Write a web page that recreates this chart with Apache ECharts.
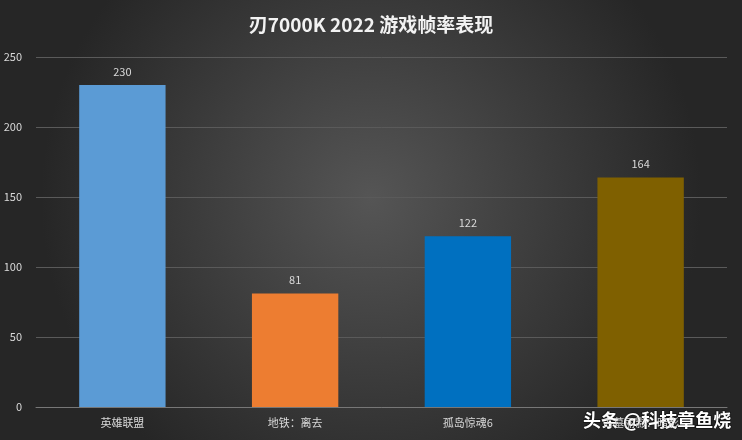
<!DOCTYPE html>
<html><head><meta charset="utf-8">
<script src="https://cdn.jsdelivr.net/npm/echarts@6/dist/echarts.min.js"></script>
<style>html,body{margin:0;padding:0;background:#333}#c{width:742px;height:440px}</style>
</head><body><div id="c"></div>
<script>
const categories = ['英雄联盟', '地铁：离去', '孤岛惊魂6', '古墓丽影：暗影'];
const values = [230, 81, 122, 164];
const barColors = ['#5b9bd5', '#ed7d31', '#0070c0', '#7f6000'];
const yTicks = [0, 50, 100, 150, 200, 250];
const font = '"Noto Sans CJK SC", "Noto Sans", sans-serif';
const chart = echarts.init(document.getElementById('c'));
chart.setOption({
  backgroundColor: {type: 'radial', x: 0.5, y: 0.45, r: 0.75,
    colorStops: [{offset: 0, color: '#555555'}, {offset: 1, color: '#262626'}]},
  title: {text: '刃7000K 2022 游戏帧率表现', left: 'center', top: 10,
    textStyle: {color: '#f2f2f2', fontSize: 19, fontWeight: 'bold', fontFamily: font}},
  grid: {left: 36, right: 15, top: 57, bottom: 33},
  xAxis: {type: 'category', data: categories,
    axisLine: {lineStyle: {color: '#777'}}, axisTick: {show: false},
    axisLabel: {color: '#d9d9d9', fontSize: 11, fontFamily: font, margin: 10}},
  yAxis: {type: 'value', min: yTicks[0], max: yTicks[yTicks.length - 1], interval: 50,
    axisLine: {show: false}, axisTick: {show: false},
    splitLine: {lineStyle: {color: '#5a5a5a'}},
    axisLabel: {color: '#d9d9d9', fontSize: 11, fontFamily: font, margin: 14}},
  series: [{type: 'bar', barWidth: '50%',
    data: values.map((v, i) => ({value: v, itemStyle: {color: barColors[i]}})),
    label: {show: true, position: 'top', color: '#d9d9d9', fontSize: 11, fontFamily: font, distance: 8}}],
  graphic: [{type: 'text', right: 10, bottom: 10,
    style: {text: '头条 @科技章鱼烧', fill: '#ffffff', font: 'bold 18px ' + font,
      stroke: 'rgba(0,0,0,0.5)', lineWidth: 1.5}}]
});
</script></body></html>
